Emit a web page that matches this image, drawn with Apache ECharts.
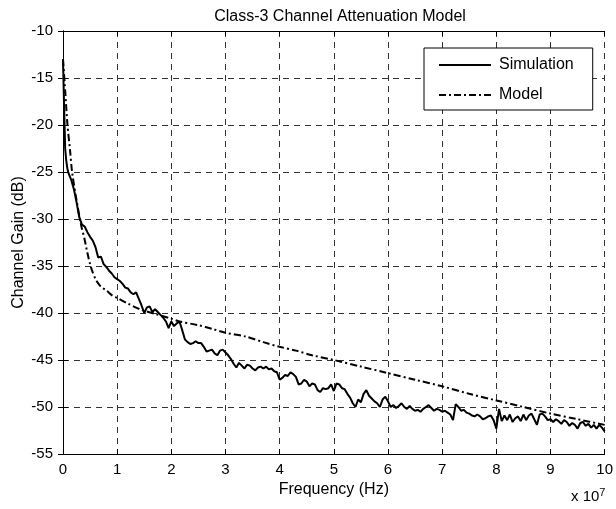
<!DOCTYPE html>
<html>
<head>
<meta charset="utf-8" />
<script type="text/javascript" src="https://cdn.jsdelivr.net/npm/echarts@6/dist/echarts.min.js"></script>
<title>Class-3 Channel Attenuation Model</title>
<style>
  html, body { margin: 0; padding: 0; background: #fff; }
  #main { width: 616px; height: 509px; }
</style>
</head>
<body>
<div id="main"></div>
<script>
// frequency in units of 1e7 Hz, gain in dB
var simulation = [
  [0, -13.0], [0.02, -18.0], [0.04, -22.5], [0.06, -23.8], [0.08, -24.6], [0.10, -25.1],
  [0.15, -25.8], [0.20, -26.8], [0.25, -28.2], [0.30, -29.8], [0.35, -30.6], [0.40, -30.8],
  [0.45, -31.4], [0.50, -31.9], [0.55, -32.3], [0.60, -33.0], [0.65, -34.1], [0.70, -34.0],
  [0.75, -34.8], [0.80, -35.1], [0.85, -35.5], [0.90, -35.8], [0.95, -36.2], [1.00, -36.4],
  [1.05, -36.6], [1.10, -36.9], [1.15, -37.3], [1.20, -37.4], [1.25, -37.8], [1.30, -38.0],
  [1.35, -37.8], [1.40, -38.5], [1.45, -39.2], [1.50, -40.0], [1.55, -39.4], [1.60, -39.3],
  [1.65, -39.9], [1.70, -39.6], [1.75, -39.9], [1.80, -40.2], [1.85, -40.5], [1.90, -40.9],
  [1.95, -41.6], [2.00, -40.9], [2.05, -41.4], [2.10, -41.1], [2.15, -40.9], [2.20, -41.8],
  [2.25, -42.8], [2.30, -43.1], [2.35, -43.3], [2.40, -43.2], [2.45, -43.0], [2.50, -43.2],
  [2.55, -43.2], [2.60, -43.6], [2.65, -44.1], [2.70, -44.0], [2.75, -43.9], [2.80, -44.3],
  [2.85, -44.5], [2.90, -44.0], [2.95, -43.9], [3.00, -44.2], [3.05, -44.5], [3.10, -44.9],
  [3.15, -45.4], [3.20, -45.8], [3.25, -45.3], [3.30, -45.6], [3.35, -45.9], [3.40, -45.5],
  [3.45, -45.6], [3.50, -45.9], [3.55, -46.1], [3.60, -45.8], [3.65, -45.7], [3.70, -45.9],
  [3.75, -45.7], [3.80, -46.0], [3.85, -45.9], [3.90, -46.2], [3.95, -46.3], [4.00, -47.1],
  [4.05, -46.9], [4.10, -46.6], [4.15, -46.7], [4.20, -46.3], [4.25, -46.5], [4.30, -46.8],
  [4.35, -47.6], [4.40, -47.5], [4.45, -47.1], [4.50, -47.3], [4.55, -47.8], [4.60, -47.5],
  [4.65, -47.6], [4.70, -48.2], [4.75, -48.4], [4.80, -48.0], [4.85, -48.1], [4.90, -48.0],
  [4.95, -47.6], [5.00, -48.3], [5.05, -47.5], [5.10, -47.6], [5.15, -48.0], [5.20, -48.1],
  [5.25, -48.6], [5.30, -49.0], [5.35, -49.6], [5.40, -50.0], [5.45, -49.2], [5.50, -49.5],
  [5.55, -48.6], [5.60, -48.2], [5.65, -48.8], [5.70, -49.1], [5.75, -49.4], [5.80, -49.6],
  [5.85, -50.0], [5.90, -49.2], [5.95, -48.9], [6.00, -49.4], [6.05, -50.0], [6.10, -49.8],
  [6.15, -50.1], [6.20, -49.9], [6.25, -49.6], [6.30, -50.0], [6.35, -50.2], [6.40, -49.9],
  [6.45, -50.2], [6.50, -50.4], [6.55, -50.3], [6.60, -50.5], [6.65, -50.2], [6.70, -50.0],
  [6.75, -49.8], [6.80, -50.1], [6.85, -50.4], [6.90, -50.2], [6.95, -50.3], [7.00, -50.5],
  [7.05, -50.4], [7.10, -50.6], [7.15, -50.8], [7.20, -51.4], [7.25, -49.7], [7.30, -50.0],
  [7.35, -50.4], [7.40, -50.3], [7.45, -50.6], [7.50, -50.7], [7.55, -50.9], [7.60, -51.0],
  [7.65, -50.8], [7.70, -51.0], [7.75, -51.3], [7.80, -51.2], [7.85, -51.0], [7.90, -50.9],
  [7.95, -51.4], [8.00, -52.3], [8.05, -50.2], [8.10, -51.5], [8.15, -50.9], [8.20, -51.4],
  [8.25, -50.8], [8.30, -51.6], [8.35, -51.2], [8.40, -51.0], [8.45, -51.5], [8.50, -50.8],
  [8.55, -51.4], [8.60, -50.9], [8.65, -50.7], [8.70, -51.3], [8.75, -51.9], [8.80, -50.8],
  [8.85, -50.7], [8.90, -51.0], [8.95, -51.4], [9.00, -51.3], [9.05, -51.6], [9.10, -51.3],
  [9.15, -51.5], [9.20, -51.8], [9.25, -51.4], [9.30, -51.6], [9.35, -52.0], [9.40, -51.7],
  [9.45, -51.9], [9.50, -52.3], [9.55, -51.7], [9.60, -51.6], [9.65, -52.0], [9.70, -51.8],
  [9.75, -52.2], [9.80, -51.9], [9.85, -52.3], [9.90, -51.9], [9.95, -52.2], [10.00, -52.6]
];

var model = [
  [0, -13.0], [0.04, -16.3], [0.08, -19.8], [0.13, -22.7], [0.17, -25.1], [0.25, -28.0],
  [0.34, -30.8], [0.40, -32.2], [0.45, -33.6], [0.50, -34.8], [0.55, -35.7], [0.62, -36.6],
  [0.70, -37.2], [0.80, -37.6], [0.90, -38.1], [1.00, -38.4], [1.20, -39.0], [1.42, -39.6],
  [1.70, -40.1], [2.00, -40.6], [2.15, -40.9], [2.50, -41.3], [2.76, -41.7], [3.00, -42.1],
  [3.37, -42.5], [3.70, -43.1], [4.00, -43.6], [4.30, -44.0], [4.60, -44.5], [5.00, -45.0],
  [5.50, -45.7], [6.00, -46.4], [6.50, -47.1], [7.00, -47.8], [7.50, -48.6], [8.00, -49.3],
  [8.50, -50.0], [9.00, -50.7], [9.50, -51.3], [10.00, -51.9]
];

var seriesNames = ['Simulation', 'Model'];
var xRange = [0, 10];
var yRange = [-55, -10];

var font = 'Liberation Sans, Arial, Helvetica, sans-serif';
var chart = echarts.init(document.getElementById('main'), null, { renderer: 'canvas' });

var gridLine = { show: true, lineStyle: { color: '#333', width: 1, type: [6, 5] } };
var blackLine = { show: true, lineStyle: { color: '#000', width: 1 } };
var inTick = { show: true, inside: true, length: 5, lineStyle: { color: '#000' } };

chart.setOption({
  animation: false,
  backgroundColor: '#fff',
  title: {
    text: 'Class-3 Channel Attenuation Model',
    left: 335, top: 4, textAlign: 'center',
    textStyle: { fontFamily: font, fontSize: 16, fontWeight: 'normal', color: '#000' }
  },
  grid: { left: 63, right: 8, top: 31, bottom: 55 },
  legend: {
    data: seriesNames,
    orient: 'vertical',
    left: 424, top: 48,
    padding: [9, 19, 7, 14],
    itemGap: 14,
    itemWidth: 52, itemHeight: 14,
    itemStyle: { opacity: 0 },
    borderColor: '#000', borderWidth: 1,
    backgroundColor: '#fff',
    selectedMode: false,
    textStyle: { fontFamily: font, fontSize: 16, color: '#000', padding: [0, 0, 0, 3] }
  },
  xAxis: [{
    type: 'value', min: xRange[0], max: xRange[1], interval: 1,
    name: 'Frequency (Hz)', nameLocation: 'middle', nameGap: 28,
    nameTextStyle: { fontFamily: font, fontSize: 16, color: '#000' },
    axisLine: blackLine, axisTick: inTick, splitLine: gridLine,
    axisLabel: { fontFamily: font, fontSize: 15, color: '#000', margin: 8 }
  }, {
    type: 'value', min: xRange[0], max: xRange[1], interval: 1, position: 'top',
    axisLine: blackLine, axisTick: inTick, splitLine: { show: false }, axisLabel: { show: false }
  }],
  yAxis: [{
    type: 'value', min: yRange[0], max: yRange[1], interval: 5,
    name: 'Channel Gain (dB)', nameLocation: 'middle', nameGap: 36, nameMoveOverlap: false,
    nameTextStyle: { fontFamily: font, fontSize: 16, color: '#000' },
    axisLine: blackLine, axisTick: inTick, splitLine: gridLine,
    axisLabel: { fontFamily: font, fontSize: 15, color: '#000', margin: 10 }
  }, {
    type: 'value', min: yRange[0], max: yRange[1], interval: 5, position: 'right',
    axisLine: blackLine, axisTick: inTick, splitLine: { show: false }, axisLabel: { show: false }
  }],
  graphic: [{
    type: 'text', left: 571, top: 487,
    style: {
      text: 'x 10{sup|7}',
      font: '15px ' + font, fill: '#000',
      rich: { sup: { fontFamily: font, fontSize: 11, verticalAlign: 'top', padding: [0, 0, 8, 0] } }
    }
  }],
  series: [{
    name: seriesNames[0], type: 'line', data: simulation,
    showSymbol: false, symbol: 'none',
    lineStyle: { color: '#000', width: 2 }, itemStyle: { color: '#000' }
  }, {
    name: seriesNames[1], type: 'line', data: model,
    showSymbol: false, symbol: 'none', smooth: 0.3,
    lineStyle: { color: '#000', width: 2, type: [7, 3, 2, 3] }, itemStyle: { color: '#000' }
  }]
});
</script>
</body>
</html>
